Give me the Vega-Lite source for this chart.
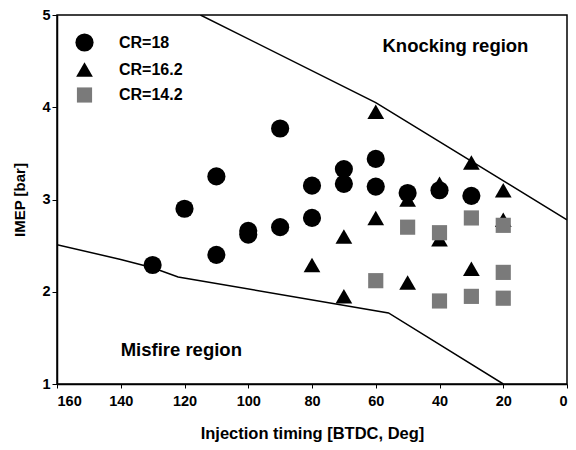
{
  "$schema": "https://vega.github.io/schema/vega-lite/v6.json",
  "width": 510,
  "height": 369,
  "autosize": "none",
  "padding": {"left": 57, "top": 15, "right": 9, "bottom": 66},
  "background": "white",
  "config": {
    "font": "Liberation Sans",
    "view": {"stroke": "black", "strokeWidth": 1.5},
    "axis": {
      "grid": false,
      "domainColor": "black",
      "domainWidth": 1.5,
      "tickColor": "black",
      "labelColor": "black",
      "labelFontWeight": "bold",
      "labelFontSize": 14.5,
      "titleColor": "black",
      "titleFontWeight": "bold",
      "titleFontSize": 15
    }
  },
  "datasets": {
    "pts": [
      {"t": 130, "imep": 2.29, "series": "CR=18"},
      {"t": 120, "imep": 2.9, "series": "CR=18"},
      {"t": 110, "imep": 3.25, "series": "CR=18"},
      {"t": 110, "imep": 2.4, "series": "CR=18"},
      {"t": 100, "imep": 2.66, "series": "CR=18"},
      {"t": 100, "imep": 2.62, "series": "CR=18"},
      {"t": 90, "imep": 3.77, "series": "CR=18"},
      {"t": 90, "imep": 2.7, "series": "CR=18"},
      {"t": 80, "imep": 3.15, "series": "CR=18"},
      {"t": 80, "imep": 2.8, "series": "CR=18"},
      {"t": 70, "imep": 3.33, "series": "CR=18"},
      {"t": 70, "imep": 3.17, "series": "CR=18"},
      {"t": 60, "imep": 3.44, "series": "CR=18"},
      {"t": 60, "imep": 3.14, "series": "CR=18"},
      {"t": 50, "imep": 3.07, "series": "CR=18"},
      {"t": 40, "imep": 3.1, "series": "CR=18"},
      {"t": 30, "imep": 3.04, "series": "CR=18"},
      {"t": 80, "imep": 2.29, "series": "CR=16.2"},
      {"t": 70, "imep": 2.6, "series": "CR=16.2"},
      {"t": 70, "imep": 1.95, "series": "CR=16.2"},
      {"t": 60, "imep": 3.95, "series": "CR=16.2"},
      {"t": 60, "imep": 2.8, "series": "CR=16.2"},
      {"t": 50, "imep": 3.0, "series": "CR=16.2"},
      {"t": 50, "imep": 2.1, "series": "CR=16.2"},
      {"t": 40, "imep": 3.17, "series": "CR=16.2"},
      {"t": 40, "imep": 2.57, "series": "CR=16.2"},
      {"t": 30, "imep": 3.4, "series": "CR=16.2"},
      {"t": 30, "imep": 2.25, "series": "CR=16.2"},
      {"t": 20, "imep": 3.1, "series": "CR=16.2"},
      {"t": 20, "imep": 2.78, "series": "CR=16.2"},
      {"t": 60, "imep": 2.12, "series": "CR=14.2"},
      {"t": 50, "imep": 2.7, "series": "CR=14.2"},
      {"t": 40, "imep": 2.64, "series": "CR=14.2"},
      {"t": 40, "imep": 1.9, "series": "CR=14.2"},
      {"t": 30, "imep": 2.8, "series": "CR=14.2"},
      {"t": 30, "imep": 1.95, "series": "CR=14.2"},
      {"t": 20, "imep": 2.72, "series": "CR=14.2"},
      {"t": 20, "imep": 2.21, "series": "CR=14.2"},
      {"t": 20, "imep": 1.93, "series": "CR=14.2"}
    ],
    "lines": [
      {"b": "knock", "t": 115, "imep": 5.0},
      {"b": "knock", "t": 60, "imep": 4.05},
      {"b": "knock", "t": 0, "imep": 2.78},
      {"b": "misfire", "t": 160, "imep": 2.51},
      {"b": "misfire", "t": 140, "imep": 2.35},
      {"b": "misfire", "t": 130, "imep": 2.26},
      {"b": "misfire", "t": 122, "imep": 2.16},
      {"b": "misfire", "t": 56, "imep": 1.77},
      {"b": "misfire", "t": 20, "imep": 1.0}
    ],
    "labels": [
      {"t": 35, "imep": 4.66, "txt": "Knocking region"},
      {"t": 121, "imep": 1.37, "txt": "Misfire region"}
    ]
  },
  "layer": [
    {
      "data": {"name": "lines"},
      "mark": {"type": "line", "color": "black", "strokeWidth": 1.5, "clip": true},
      "encoding": {
        "x": {"field": "t", "type": "quantitative", "scale": {"domain": [0, 160], "reverse": true, "nice": false},
          "axis": {"values": [0, 20, 40, 60, 80, 100, 120, 140, 160], "format": "d", "title": "Injection timing [BTDC, Deg]", "titleFontSize": 16.5, "titlePadding": 18, "tickSize": 4, "labelPadding": 6}},
        "y": {"field": "imep", "type": "quantitative", "scale": {"domain": [1, 5], "nice": false},
          "axis": {"values": [1, 2, 3, 4, 5], "format": "d", "title": "IMEP [bar]", "titlePadding": 14, "tickSize": 5}},
        "detail": {"field": "b"},
        "order": {"field": "t", "sort": "descending"}
      }
    },
    {
      "data": {"name": "pts"},
      "mark": {"type": "point", "filled": true, "opacity": 1},
      "encoding": {
        "x": {"field": "t", "type": "quantitative"},
        "y": {"field": "imep", "type": "quantitative"},
        "shape": {"field": "series", "type": "nominal",
          "scale": {"domain": ["CR=18", "CR=16.2", "CR=14.2"], "range": ["circle", "triangle-up", "square"]},
          "legend": {"title": null, "orient": "none", "legendX": 18, "legendY": 18, "labelFontSize": 16, "labelFontWeight": "bold", "labelColor": "black", "labelOffset": 25, "rowPadding": 9, "symbolStrokeWidth": 0}},
        "color": {"field": "series", "type": "nominal",
          "scale": {"domain": ["CR=18", "CR=16.2", "CR=14.2"], "range": ["black", "black", "#7a7a7a"]}},
        "size": {"field": "series", "type": "nominal",
          "scale": {"domain": ["CR=18", "CR=16.2", "CR=14.2"], "range": [330, 230, 170]}}
      }
    },
    {
      "data": {"name": "labels"},
      "mark": {"type": "text", "fontSize": 18.5, "fontWeight": "bold", "color": "black", "align": "center", "baseline": "middle"},
      "encoding": {
        "x": {"field": "t", "type": "quantitative"},
        "y": {"field": "imep", "type": "quantitative"},
        "text": {"field": "txt"}
      }
    }
  ]
}
